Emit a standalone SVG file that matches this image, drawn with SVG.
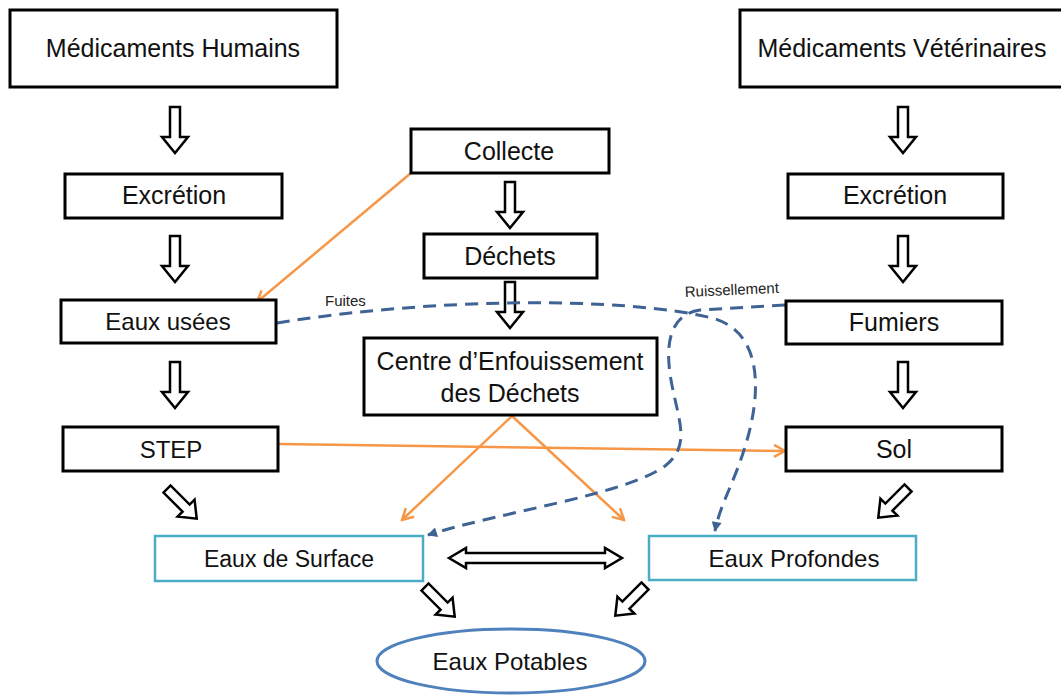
<svg xmlns="http://www.w3.org/2000/svg" xmlns:xlink="http://www.w3.org/1999/xlink" width="1061" height="695" viewBox="0 0 1061 695">
<style>
.box{fill:#fff;stroke:#000;stroke-width:3}
.wbox{fill:#fff;stroke:#4BACC6;stroke-width:2.5}
.t{font-family:"Liberation Sans",Arial,sans-serif;font-size:25px;fill:#111;text-anchor:middle}
.s{font-family:"Liberation Sans",Arial,sans-serif;font-size:15px;fill:#222}
.blk{fill:#fff;stroke:#000;stroke-width:2.5;stroke-linejoin:miter}
.or{fill:none;stroke:#F79646;stroke-width:2.5;marker-end:url(#oa)}
.da{fill:none;stroke:#3E6394;stroke-width:3;stroke-dasharray:13 8;marker-end:url(#ba)}
</style>
<defs>
<marker id="oa" viewBox="0 0 14 14" refX="12.5" refY="7" markerWidth="14" markerHeight="14" markerUnits="userSpaceOnUse" orient="auto">
<path d="M1.5,1 L12.5,7 L1.5,13" fill="none" stroke="#F79646" stroke-width="2.5"/>
</marker>
<marker id="ba" viewBox="0 0 10 10" refX="9" refY="5" markerWidth="11" markerHeight="10" markerUnits="userSpaceOnUse" orient="auto">
<path d="M0,0 L10,5 L0,10 z" fill="#3E6394"/>
</marker>
<path id="dn" d="M-5,0 H5 V30 H13 L0,46 L-13,30 H-5 Z"/>
<path id="dg" d="M-5,0 H5 V27 H12 L0,42 L-12,27 H-5 Z"/>
</defs>

<g id="connectors">
<use href="#dn" class="blk" x="175" y="107"/>
<use href="#dn" class="blk" x="175" y="236"/>
<use href="#dn" class="blk" x="175" y="362"/>
<use href="#dn" class="blk" x="903" y="107"/>
<use href="#dn" class="blk" x="903" y="236"/>
<use href="#dn" class="blk" x="903" y="362"/>
<use href="#dn" class="blk" x="510" y="182"/>
<use href="#dn" class="blk" x="510" y="282"/>
<use href="#dg" class="blk" transform="translate(167,489) rotate(-45)"/>
<use href="#dg" class="blk" transform="translate(908,488) rotate(45)"/>
<use href="#dg" class="blk" transform="translate(425,587) rotate(-45)"/>
<use href="#dg" class="blk" transform="translate(645,586) rotate(45)"/>
<path class="blk" d="M449,558 L466,548 V553 H605 V548 L622,558 L605,568 V563 H466 V568 Z"/>

<line class="or" x1="411" y1="173" x2="257" y2="302"/>
<line class="or" x1="279" y1="444" x2="785" y2="451"/>
<line class="or" x1="512" y1="416" x2="402" y2="520"/>
<line class="or" x1="512" y1="416" x2="624" y2="520"/>

<path class="da" d="M277,323 C430,298 620,296 712,318 C764,332 762,395 744,450 C733,485 720,505 715,531"/>
<path class="da" d="M785,305 L700,310 C672,314 664,340 671,380 C678,420 692,445 665,466 C625,495 500,512 428,535"/>
<text class="s" x="325" y="306">Fuites</text>
<text class="s" x="685" y="297" transform="rotate(-2.5 685 297)">Ruissellement</text>
</g>

<g id="med-humains"><rect class="box" x="10" y="10" width="327" height="77"/><text class="t" x="173" y="57">Médicaments Humains</text></g>
<g id="med-vet"><rect class="box" x="740" y="10" width="340" height="77"/><text class="t" x="902" y="57">Médicaments Vétérinaires</text></g>
<g id="excretion-h"><rect class="box" x="65" y="174" width="217" height="44"/><text class="t" x="174" y="204">Excrétion</text></g>
<g id="excretion-v"><rect class="box" x="788" y="174" width="215" height="44"/><text class="t" x="895" y="204">Excrétion</text></g>
<g id="collecte"><rect class="box" x="411" y="129" width="198" height="44"/><text class="t" x="509" y="160">Collecte</text></g>
<g id="dechets"><rect class="box" x="424" y="234" width="173" height="44"/><text class="t" x="510" y="265">Déchets</text></g>
<g id="centre"><rect class="box" x="364" y="338" width="293" height="77"/><text class="t" x="510" y="370">Centre d’Enfouissement</text><text class="t" x="510" y="402">des Déchets</text></g>
<g id="eaux-usees"><rect class="box" x="61" y="300" width="215" height="43"/><text class="t" x="168" y="330" style="font-size:24px">Eaux usées</text></g>
<g id="step"><rect class="box" x="63" y="427" width="215" height="44"/><text class="t" x="171" y="458" style="font-size:24px">STEP</text></g>
<g id="fumiers"><rect class="box" x="786" y="301" width="216" height="43"/><text class="t" x="894" y="331">Fumiers</text></g>
<g id="sol"><rect class="box" x="786" y="427" width="216" height="44"/><text class="t" x="894" y="458">Sol</text></g>
<g id="eaux-surface"><rect class="wbox" x="155" y="536" width="268" height="45"/><text class="t" x="289" y="567" style="font-size:23px">Eaux de Surface</text></g>
<g id="eaux-profondes"><rect class="wbox" x="649" y="536" width="267" height="44"/><text class="t" x="794" y="567" style="font-size:24px">Eaux Profondes</text></g>
<g id="eaux-potables"><ellipse cx="511" cy="661" rx="134" ry="32" fill="#fff" stroke="#4F81BD" stroke-width="3"/><text class="t" x="510" y="670" style="font-size:24px">Eaux Potables</text></g>
</svg>
